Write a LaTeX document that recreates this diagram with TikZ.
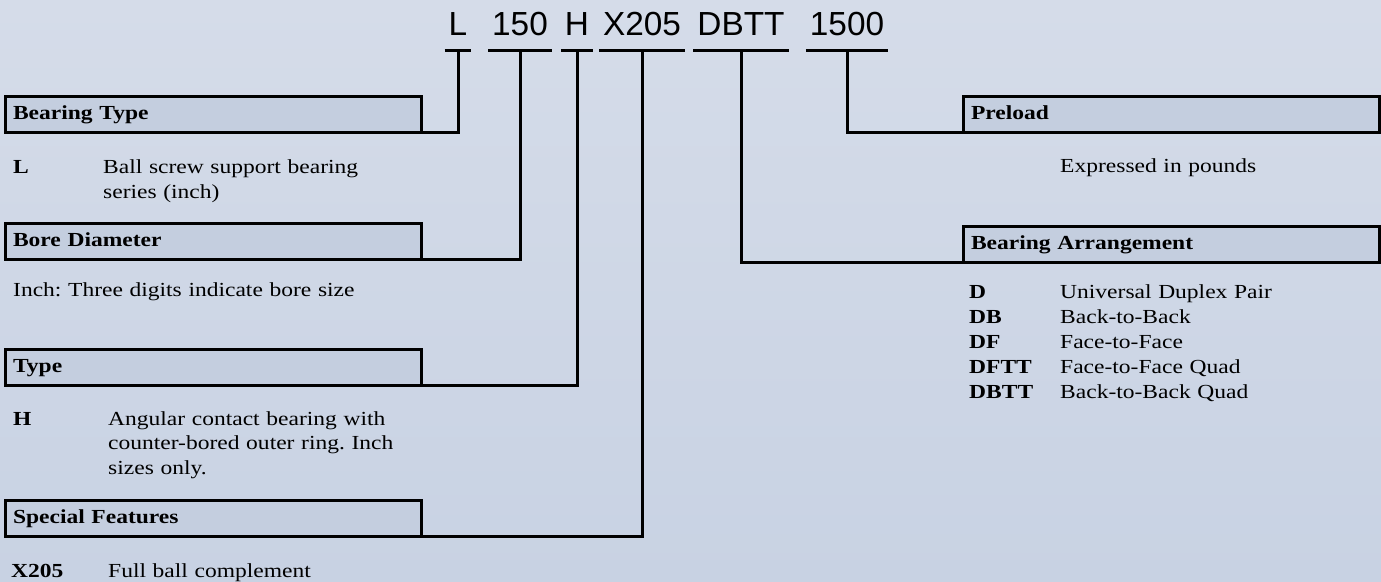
\documentclass[tikz,border=0pt]{standalone}
\usepackage{fontspec}
\setmainfont{Liberation Serif}[FakeStretch=1.18]
\newfontfamily\codefont{Liberation Sans}
\usetikzlibrary{positioning}
\definecolor{bgtop}{RGB}{213,220,233}
\definecolor{bgbot}{RGB}{200,210,227}
\definecolor{hdrfill}{RGB}{196,206,223}
\frenchspacing

\begin{document}
\begin{tikzpicture}[x=1bp, y=-1bp,
  code/.style={font=\codefont\fontsize{33.5}{36}\selectfont, anchor=base,
    inner xsep=4bp, inner ysep=15bp, text depth=0pt, outer sep=0pt},
  hdr/.style={draw, line width=3bp, fill=hdrfill, anchor=north west,
    text width=400bp, align=left, inner xsep=8bp, inner ysep=0pt,
    minimum height=36bp, text height=14bp, text depth=4bp, outer sep=0pt,
    font=\bfseries\fontsize{20}{25}\selectfont},
  key/.style={anchor=base west, inner sep=0pt, font=\bfseries\fontsize{20}{25}\selectfont},
  desc/.style={anchor=base west, inner sep=0pt, align=left, text width=420bp,
    font=\fontsize{20}{25}\selectfont},
  rule/.style={line width=3bp},
  link/.style={line width=3bp}]

% background
\fill[top color=bgtop, bottom color=bgbot] (0,0) rectangle (1381,582);
\useasboundingbox (0,0) rectangle (1381,582);

% part number
\node[code] (cL) at (458,36) {L};
\node[code] (c150) at (520,36) {150};
\node[code] (cH) at (577,36) {H};
\node[code] (cX) at (642,36) {X205};
\node[code] (cD) at (741,36) {DBTT};
\node[code] (cP) at (847,36) {1500};
\foreach \c in {cL,c150,cH,cX,cD,cP}
  \draw[rule] (\c.south west) -- (\c.south east);

% headings
\node[hdr] (bType) at (5,97) {Bearing Type};
\node[hdr] (bBore) at (5,223) {Bore Diameter};
\node[hdr] (bKind) at (5,349) {Type};
\node[hdr] (bSpec) at (5,500) {Special Features};
\node[hdr] (bLoad) at (963,97) {Preload};
\node[hdr] (bArr) at (963,226) {Bearing Arrangement};

% leaders
\draw[link] (cL.south) |- (bType.south east);
\draw[link] (c150.south) |- (bBore.south east);
\draw[link] (cH.south) |- (bKind.south east);
\draw[link] (cX.south) |- (bSpec.south east);
\draw[link] (cD.south) |- (bArr.south west);
\draw[link] (cP.south) |- (bLoad.south west);

% descriptions
\node[key] (kL) at (13,174) {L};
\node[desc] (dL) at (103,174) {Ball screw support bearing\\series (inch)};
\node[desc] (dBore) at (13,296) {Inch: Three digits indicate bore size};
\node[key] (kH) at (13,425) {H};
\node[desc] (dH) at (108,425) {Angular contact bearing with\\counter-bored outer ring. Inch\\sizes only.};
\node[key] (kX) at (11,577) {X205};
\node[desc] (dX) at (108,577) {Full ball complement};
\node[desc] (dLoad) at (1060,173) {Expressed in pounds};
\foreach \k/\t [count=\i from 0] in {D/Universal Duplex Pair, DB/Back-to-Back,
    DF/Face-to-Face, DFTT/Face-to-Face Quad, DBTT/Back-to-Back Quad} {
  \node[key] (k\k) at (969,298+25*\i) {\k};
  \node[desc] (d\k) at (1060,298+25*\i) {\t};
}
\end{tikzpicture}
\end{document}
